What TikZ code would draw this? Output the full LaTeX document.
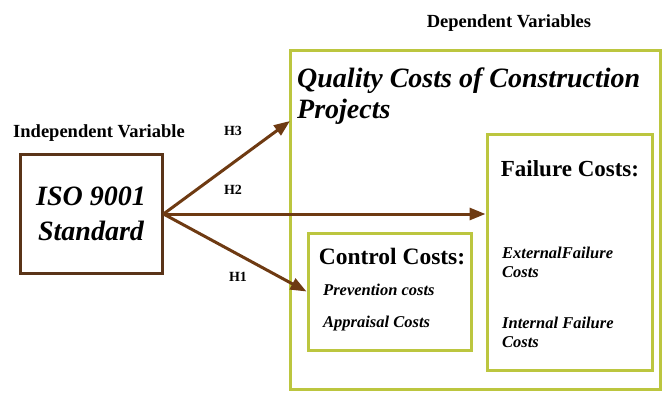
\documentclass[tikz,border=0pt]{standalone}
\usepackage{fontspec}
\setmainfont{Liberation Serif}
\usetikzlibrary{arrows.meta}
\definecolor{arrowbrown}{HTML}{6E3A12}
\definecolor{boxbrown}{HTML}{5A3418}
\definecolor{boxolive}{HTML}{BCC63F}

\begin{document}
\begin{tikzpicture}[x=1pt,y=-1pt]
	\tikzset{ybox/.style={draw=boxolive, line width=3pt}}
	\tikzset{hyp/.style={draw=arrowbrown, line width=3pt, -{Triangle[length=16pt,width=12pt]}}}
	\tikzset{hlabel/.style={font=\fontsize{14}{16}\selectfont\bfseries}}
	\tikzset{small/.style={anchor=west, inner sep=0, align=left, font=\fontsize{16.5}{19}\selectfont\bfseries\itshape}}
	\useasboundingbox (0,0) rectangle (664,393);

	% independent side
	\node[font=\fontsize{18.5}{20}\selectfont\bfseries] (indep) at (99,133) {Independent Variable};
	\node[draw=boxbrown, line width=3pt, minimum width=142pt, minimum height=118pt, align=center,
		font=\fontsize{28}{35}\selectfont\bfseries\itshape] (iso) at (91,214) {ISO 9001\\Standard};

	% dependent side
	\node[font=\fontsize{18.5}{20}\selectfont\bfseries] (dep) at (509,23) {Dependent Variables};
	\node[ybox, minimum width=370pt, minimum height=338pt] (quality) at (475,220) {};
	\node[anchor=north west, inner sep=0, align=left, font=\fontsize{28}{31}\selectfont\bfseries\itshape]
		(qtitle) at (297,68) {Quality Costs of Construction\\Projects};

	\node[ybox, minimum width=165pt, minimum height=235pt] (failure) at (569.5,252.5) {};
	\node[font=\fontsize{23}{25}\selectfont\bfseries] (ftitle) at (570,169) {Failure Costs:};
	\node[small] (ext) at (502,262) {ExternalFailure\\Costs};
	\node[small] (int) at (502,332) {Internal Failure\\Costs};

	\node[ybox, minimum width=163pt, minimum height=117pt] (control) at (389.5,291.5) {};
	\node[font=\fontsize{23.5}{25}\selectfont\bfseries] (ctitle) at (392,257) {Control Costs:};
	\node[small] (prev) at (323,290) {Prevention costs};
	\node[small] (appr) at (323,324) {Appraisal Costs};

	% hypotheses
	\coordinate (h3end) at (290,121);
	\draw[hyp] (iso.east) -- (h3end);
	\draw[hyp] (iso.east) -- (failure.west |- iso.east);
	\draw[hyp] (iso.east) -- (control.west);
	\node[hlabel] (h3) at (233,131) {H3};
	\node[hlabel] (h2) at (233,190) {H2};
	\node[hlabel] (h1) at (238,277) {H1};
\end{tikzpicture}
\end{document}
